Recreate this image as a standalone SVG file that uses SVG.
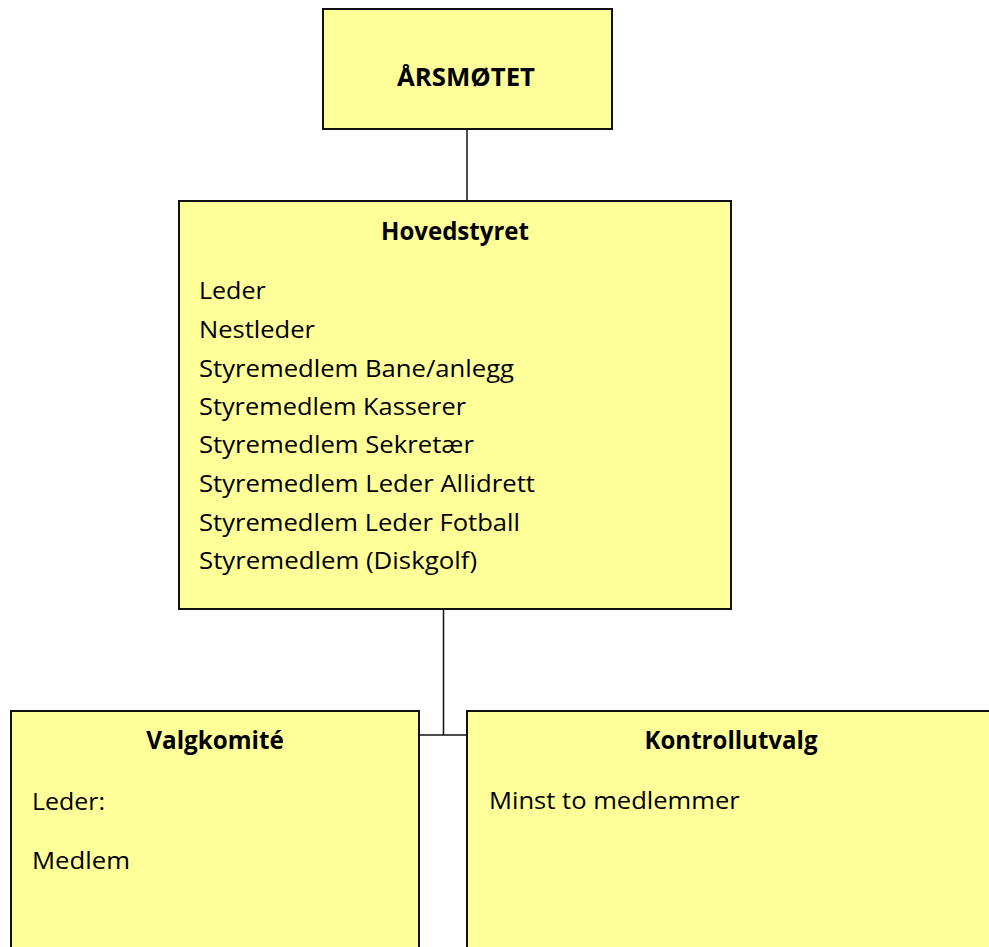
<svg xmlns="http://www.w3.org/2000/svg" width="989" height="947" viewBox="0 0 989 947">
<style>
.box{fill:#FFFF99;stroke:#111;stroke-width:2}
.t{font-family:"Open Sans","Liberation Sans",sans-serif;font-size:24.5px;fill:#000}
.b{font-weight:bold;text-anchor:middle}
.c{stroke:#111;stroke-width:1.5;fill:none}
</style>
<rect width="989" height="947" fill="#fff"/>
<g id="connectors">
<line class="c" x1="467" y1="129" x2="467" y2="201"/>
<line class="c" x1="443.5" y1="609" x2="443.5" y2="735"/>
<line class="c" x1="419" y1="735" x2="467" y2="735"/>
</g>
<g id="arsmotet">
<rect class="box" x="323" y="9" width="289" height="120"/>
<text class="t b" x="466" y="86" textLength="138" lengthAdjust="spacingAndGlyphs">ÅRSMØTET</text>
</g>
<g id="hovedstyret">
<rect class="box" x="179" y="201" width="552" height="408"/>
<text class="t b" x="455" y="240" textLength="148" lengthAdjust="spacingAndGlyphs">Hovedstyret</text>
<text class="t" x="199" y="299" textLength="66.7" lengthAdjust="spacingAndGlyphs">Leder</text>
<text class="t" x="199" y="338" textLength="116" lengthAdjust="spacingAndGlyphs">Nestleder</text>
<text class="t" x="199" y="376.5" textLength="315" lengthAdjust="spacingAndGlyphs">Styremedlem Bane/anlegg</text>
<text class="t" x="199" y="415" textLength="267" lengthAdjust="spacingAndGlyphs">Styremedlem Kasserer</text>
<text class="t" x="199" y="453.3" textLength="275" lengthAdjust="spacingAndGlyphs">Styremedlem Sekretær</text>
<text class="t" x="199" y="491.7" textLength="336" lengthAdjust="spacingAndGlyphs">Styremedlem Leder Allidrett</text>
<text class="t" x="199" y="530.5" textLength="321" lengthAdjust="spacingAndGlyphs">Styremedlem Leder Fotball</text>
<text class="t" x="199" y="569" textLength="278" lengthAdjust="spacingAndGlyphs">Styremedlem (Diskgolf)</text>
</g>
<g id="valgkomite">
<rect class="box" x="11" y="711" width="408" height="260"/>
<text class="t b" x="215" y="749" textLength="137.5" lengthAdjust="spacingAndGlyphs">Valgkomité</text>
<text class="t" x="32" y="810" textLength="73" lengthAdjust="spacingAndGlyphs">Leder:</text>
<text class="t" x="32" y="869" textLength="98" lengthAdjust="spacingAndGlyphs">Medlem</text>
</g>
<g id="kontrollutvalg">
<rect class="box" x="467" y="711" width="540" height="260"/>
<text class="t b" x="731" y="749" textLength="173" lengthAdjust="spacingAndGlyphs">Kontrollutvalg</text>
<text class="t" x="489" y="809" textLength="250.7" lengthAdjust="spacingAndGlyphs">Minst to medlemmer</text>
</g>
</svg>
